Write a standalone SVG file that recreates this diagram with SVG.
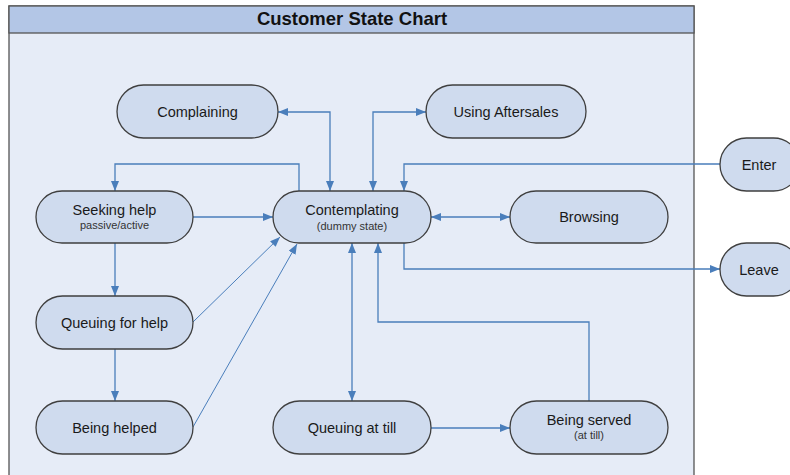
<svg xmlns="http://www.w3.org/2000/svg" width="790" height="475" viewBox="0 0 790 475">
<style>
.node rect{fill:#cfdbee;stroke:#3f3f3f;stroke-width:1.3}
.t{font-family:"Liberation Sans",Arial,sans-serif;font-size:14.5px;fill:#1a1a1a;text-anchor:middle}
.s{font-family:"Liberation Sans",Arial,sans-serif;font-size:11px;fill:#333;text-anchor:middle}
.c{fill:none;stroke:#4a7ebb;stroke-width:1.3}
.d{fill:none;stroke:#4a7ebb;stroke-width:1}
</style>
<defs>
<marker id="a" viewBox="0 0 10 8" refX="10" refY="4" markerWidth="10" markerHeight="8" markerUnits="userSpaceOnUse" orient="auto-start-reverse">
<path d="M0,0 L10,4 L0,8 Z" fill="#4a7ebb"/>
</marker>
</defs>
<rect x="0" y="0" width="790" height="475" fill="#ffffff"/>
<g id="frame">
<rect x="9" y="6" width="685" height="475" fill="#e6ecf7" stroke="#555" stroke-width="1.3"/>
<rect x="9" y="6" width="685" height="27" fill="#b3c6e6" stroke="#555" stroke-width="1.3"/>
<text x="352" y="25" font-family="Liberation Sans,Arial,sans-serif" font-size="18.5" font-weight="bold" fill="#111" text-anchor="middle">Customer State Chart</text>
</g>
<g id="connectors">
<polyline class="c" points="330,191 330,112 278,112" marker-start="url(#a)" marker-end="url(#a)"/>
<polyline class="c" points="373,191 373,112 426,112" marker-start="url(#a)" marker-end="url(#a)"/>
<polyline class="c" points="299,191 299,164 115,164 115,191" marker-end="url(#a)"/>
<line class="c" x1="193" y1="217" x2="273" y2="217" marker-end="url(#a)"/>
<polyline class="c" points="720,164 404,164 404,191" marker-end="url(#a)"/>
<line class="c" x1="431" y1="217" x2="510" y2="217" marker-start="url(#a)" marker-end="url(#a)"/>
<polyline class="c" points="404,243 404,269 720,269" marker-end="url(#a)"/>
<line class="c" x1="115" y1="243" x2="115" y2="296" marker-end="url(#a)"/>
<line class="c" x1="115" y1="349" x2="115" y2="401" marker-end="url(#a)"/>
<line class="d" x1="193" y1="322" x2="280" y2="237" marker-end="url(#a)"/>
<line class="d" x1="193" y1="427" x2="297" y2="244" marker-end="url(#a)"/>
<line class="c" x1="352" y1="243" x2="352" y2="401" marker-start="url(#a)" marker-end="url(#a)"/>
<polyline class="c" points="589,401 589,322 378,322 378,243" marker-end="url(#a)"/>
<line class="c" x1="431" y1="428" x2="510" y2="428" marker-end="url(#a)"/>
</g>
<g id="complaining" class="node"><rect x="117" y="85" width="161" height="53" rx="26.5"/><text class="t" x="197.5" y="116.5">Complaining</text></g>
<g id="using-aftersales" class="node"><rect x="426" y="85" width="160" height="53" rx="26.5"/><text class="t" x="506" y="116.5">Using Aftersales</text></g>
<g id="seeking-help" class="node"><rect x="36" y="191" width="157" height="52" rx="26"/><text class="t" x="114.5" y="215">Seeking help</text><text class="s" x="114.5" y="229">passive/active</text></g>
<g id="contemplating" class="node"><rect x="273" y="191" width="158" height="52" rx="26"/><text class="t" x="352" y="215">Contemplating</text><text class="s" x="352" y="230">(dummy state)</text></g>
<g id="browsing" class="node"><rect x="510" y="191" width="158" height="52" rx="26"/><text class="t" x="589" y="222">Browsing</text></g>
<g id="enter" class="node"><rect x="720" y="138" width="80" height="53" rx="26.5"/><text class="t" x="759" y="169.5">Enter</text></g>
<g id="leave" class="node"><rect x="720" y="243" width="80" height="53" rx="26.5"/><text class="t" x="759" y="274.5">Leave</text></g>
<g id="queuing-for-help" class="node"><rect x="36" y="296" width="157" height="53" rx="26.5"/><text class="t" x="114.5" y="327.5">Queuing for help</text></g>
<g id="being-helped" class="node"><rect x="36" y="401" width="157" height="53" rx="26.5"/><text class="t" x="114.5" y="432.5">Being helped</text></g>
<g id="queuing-at-till" class="node"><rect x="273" y="401" width="158" height="53" rx="26.5"/><text class="t" x="352" y="432.5">Queuing at till</text></g>
<g id="being-served" class="node"><rect x="510" y="401" width="158" height="53" rx="26.5"/><text class="t" x="589" y="425">Being served</text><text class="s" x="589" y="439">(at till)</text></g>
</svg>
